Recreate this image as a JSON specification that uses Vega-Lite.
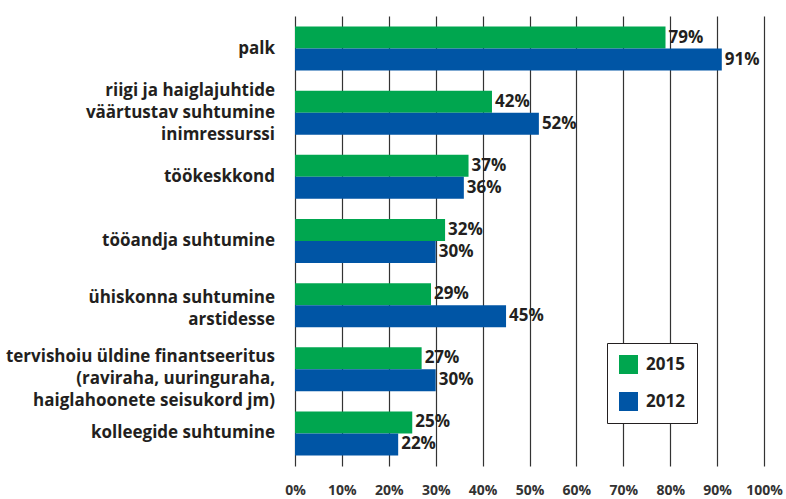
{
  "$schema": "https://vega.github.io/schema/vega-lite/v6.json",
  "autosize": "none",
  "width": 469,
  "height": 450,
  "padding": {"left": 295, "top": 16, "right": 22, "bottom": 33},
  "background": "white",
  "config": {
    "font": "Open Sans",
    "view": {"stroke": null}
  },
  "data": {
    "values": [
      {"cat": "palk", "year": "2015", "value": 0.79},
      {"cat": "palk", "year": "2012", "value": 0.91},
      {"cat": "riigi ja haiglajuhtide\nväärtustav suhtumine\ninimressurssi", "year": "2015", "value": 0.42},
      {"cat": "riigi ja haiglajuhtide\nväärtustav suhtumine\ninimressurssi", "year": "2012", "value": 0.52},
      {"cat": "töökeskkond", "year": "2015", "value": 0.37},
      {"cat": "töökeskkond", "year": "2012", "value": 0.36},
      {"cat": "tööandja suhtumine", "year": "2015", "value": 0.32},
      {"cat": "tööandja suhtumine", "year": "2012", "value": 0.30},
      {"cat": "ühiskonna suhtumine\narstidesse", "year": "2015", "value": 0.29},
      {"cat": "ühiskonna suhtumine\narstidesse", "year": "2012", "value": 0.45},
      {"cat": "tervishoiu üldine finantseeritus\n(raviraha, uuringuraha,\nhaiglahoonete seisukord jm)", "year": "2015", "value": 0.27},
      {"cat": "tervishoiu üldine finantseeritus\n(raviraha, uuringuraha,\nhaiglahoonete seisukord jm)", "year": "2012", "value": 0.30},
      {"cat": "kolleegide suhtumine", "year": "2015", "value": 0.25},
      {"cat": "kolleegide suhtumine", "year": "2012", "value": 0.22}
    ]
  },
  "encoding": {
    "y": {
      "field": "cat",
      "type": "nominal",
      "sort": null,
      "scale": {"paddingInner": 0.314, "paddingOuter": 0.164},
      "axis": {
        "title": null,
        "domain": false,
        "ticks": false,
        "labels": false
      }
    },
    "x": {
      "field": "value",
      "type": "quantitative",
      "scale": {"domain": [0, 1]},
      "axis": {
        "title": null,
        "values": [0, 0.1, 0.2, 0.3, 0.4, 0.5, 0.6, 0.7, 0.8, 0.9, 1],
        "format": ".0%",
        "domain": false,
        "ticks": false,
        "grid": true,
        "gridColor": "#333333",
        "gridOpacity": 1,
        "gridWidth": 1.2,
        "labelPadding": 17,
        "labelFontSize": 14,
        "labelFontWeight": "bold",
        "labelColor": "#333333",
        "labelFlush": false
      }
    }
  },
  "layer": [
    {
      "mark": {"type": "bar"},
      "encoding": {
        "yOffset": {
          "field": "year",
          "type": "nominal",
          "sort": ["2015", "2012"],
          "scale": {"domain": ["2015", "2012"], "paddingInner": 0, "paddingOuter": 0}
        },
        "color": {
          "field": "year",
          "type": "nominal",
          "scale": {"domain": ["2015", "2012"], "range": ["#00A64F", "#0055A5"]},
          "legend": {
            "title": null,
            "orient": "none",
            "legendX": 312,
            "legendY": 327,
            "direction": "vertical",
            "symbolType": "square",
            "symbolSize": 361,
            "symbolStrokeWidth": 0,
            "labelFontSize": 17,
            "labelFontWeight": "bold",
            "labelColor": "#231F20",
            "labelOffset": 8,
            "rowPadding": 18,
            "padding": 12,
            "strokeColor": "#231F20",
            "fillColor": "white"
          }
        }
      }
    },
    {
      "mark": {"type": "text", "align": "left", "baseline": "middle", "dx": 3, "fontSize": 17, "fontWeight": "bold", "color": "#231F20"},
      "encoding": {
        "yOffset": {
          "field": "year",
          "type": "nominal",
          "sort": ["2015", "2012"],
          "scale": {"domain": ["2015", "2012"], "paddingInner": 0, "paddingOuter": 0}
        },
        "text": {"field": "value", "type": "quantitative", "format": ".0%"}
      }
    },
    {
      "transform": [{"filter": "datum.year === '2015'"}],
      "mark": {
        "type": "text",
        "align": "right",
        "baseline": "middle",
        "lineBreak": "\n",
        "lineHeight": 22,
        "dx": -20,
        "dy": {"expr": "-(length(split(datum.cat, '\\n')) - 1) * 11 + (indexof(datum.cat, 'tervishoiu') === 0 ? 10 : indexof(datum.cat, 'ühiskonna') === 0 ? 4 : 0)"},
        "fontSize": 17,
        "fontWeight": "bold",
        "color": "#231F20"
      },
      "encoding": {
        "x": {"datum": 0},
        "text": {"field": "cat", "type": "nominal"}
      }
    }
  ]
}
